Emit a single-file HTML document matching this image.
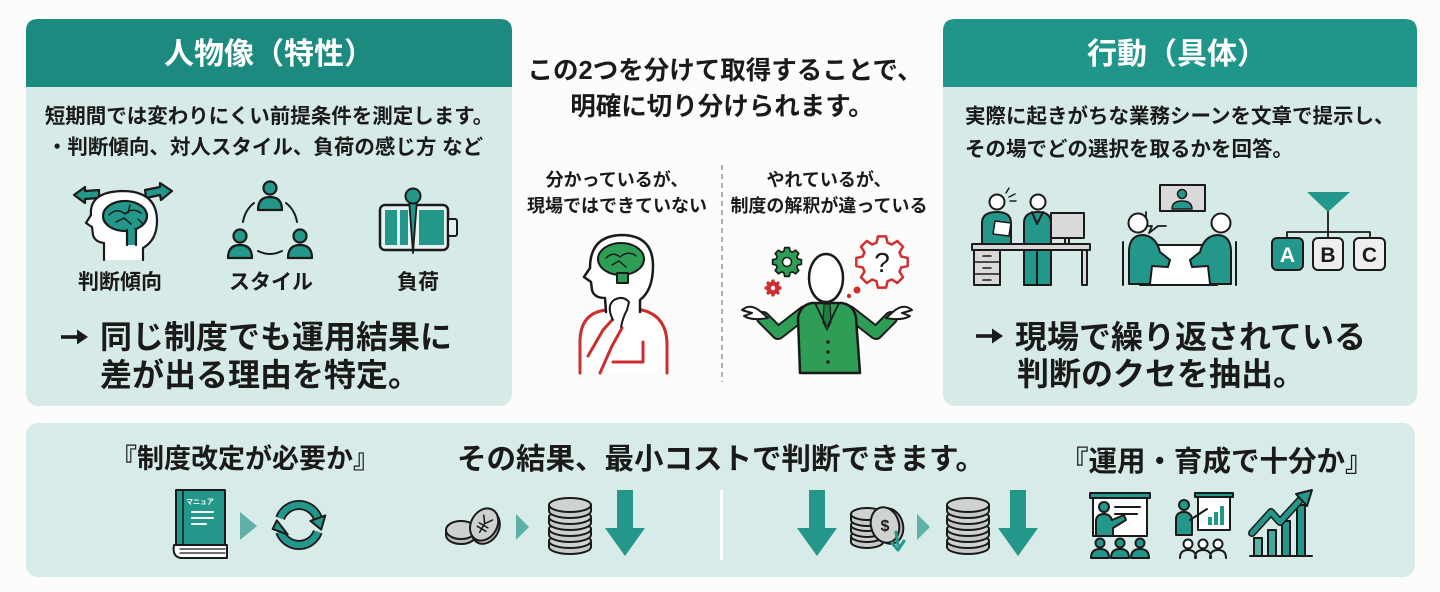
<!DOCTYPE html>
<html lang="ja">
<head>
<meta charset="utf-8">
<style>
html,body{margin:0;padding:0;background:#fcfcfb;}
#wrap{position:relative;width:1440px;height:592px;overflow:hidden;background:#fcfcfb;}
svg{position:absolute;left:0;top:0;}
.t{position:absolute;font-family:"Liberation Sans","Noto Sans CJK JP",sans-serif;font-weight:700;color:#1a1a1a;white-space:nowrap;}
.c{text-align:center;}
</style>
</head>
<body>
<div id="wrap">
<svg width="1440" height="592" viewBox="0 0 1440 592">
  <defs>
    <polygon id="gear" points="19.23,-5.51 25.68,-4.07 25.68,4.07 19.23,5.51 17.49,9.70 21.04,15.28 15.28,21.04 9.70,17.49 5.51,19.23 4.07,25.68 -4.07,25.68 -5.51,19.23 -9.70,17.49 -15.28,21.04 -21.04,15.28 -17.49,9.70 -19.23,5.51 -25.68,4.07 -25.68,-4.07 -19.23,-5.51 -17.49,-9.70 -21.04,-15.28 -15.28,-21.04 -9.70,-17.49 -5.51,-19.23 -4.07,-25.68 4.07,-25.68 5.51,-19.23 9.70,-17.49 15.28,-21.04 21.04,-15.28 17.49,-9.70"/>
  </defs>
  <!-- panels -->
  <rect x="26" y="19" width="486" height="387" rx="12" fill="#d6ebe8"/>
  <path d="M26,87 V31 Q26,19 38,19 H500 Q512,19 512,31 V87 Z" fill="#1c8a7f"/>
  <rect x="943" y="19" width="474" height="387" rx="12" fill="#d6ebe8"/>
  <path d="M943,87 V31 Q943,19 955,19 H1405 Q1417,19 1417,31 V87 Z" fill="#20968a"/>
  <rect x="26" y="423" width="1389" height="154" rx="12" fill="#d7ebe8"/>

  <!-- big arrows -->
  <g fill="#1a1a1a">
    <rect x="61" y="335.2" width="19" height="3.6"/>
    <path d="M77,329.5 L88,337 L77,344.5 Z"/>
    <rect x="976" y="334.2" width="19" height="3.6"/>
    <path d="M992,328.5 L1003,336 L992,343.5 Z"/>
  </g>

  <!-- ===== Left panel icons ===== -->
  <g stroke="#1a1a1a" stroke-width="2.2" stroke-linejoin="round" stroke-linecap="round">
    <path d="M74,195 L85,187 L85,191 L99,190 L99,198 L85,199 L85,203 Z" fill="#23978a"/>
    <path d="M172,191 L160,183 L160,187 L145,190 L146,198 L160,195 L161,200 Z" fill="#23978a"/>
    <path d="M104,260 L104,243 Q95,242 93,235 L92,227 L86,223 L91,215 Q89,192 122,191 Q157,191 157,221 Q157,240 143,248 L143,260" fill="#fff"/>
    <ellipse cx="125" cy="216" rx="22" ry="15" fill="#23978a"/>
    <rect x="127" y="229" width="9" height="16" fill="#23978a" stroke="none"/>
    <path d="M127,230 L127,245 M136,230 L136,245" fill="none"/>
    <path d="M109,215 Q117,207 125,214 Q132,207 141,213 M116,222 L124,218 L131,224 M130,205 L128,213 M138,219 L143,224" fill="none" stroke-width="1.5"/>
    <circle cx="270" cy="188" r="6.5" fill="#23978a"/>
    <path d="M258,210 Q258,197 270,197 Q282,197 282,210 Z" fill="#23978a"/>
    <circle cx="240" cy="236" r="6.5" fill="#23978a"/>
    <path d="M228,258 Q228,245 240,245 Q252,245 252,258 Z" fill="#23978a"/>
    <circle cx="300" cy="236" r="6.5" fill="#23978a"/>
    <path d="M288,258 Q288,245 300,245 Q312,245 312,258 Z" fill="#23978a"/>
    <path d="M243,222 Q245,210 254,203 M286,203 Q295,210 297,222 M258,251 Q270,257 282,251" fill="none" stroke-width="2"/>
    <rect x="380" y="205" width="68" height="45" rx="5" fill="#e6f2f0" stroke-width="2.5"/>
    <rect x="385" y="210" width="12" height="35" fill="#23978a" stroke="none"/>
    <rect x="400" y="210" width="8" height="35" fill="#23978a" stroke="none"/>
    <rect x="419" y="210" width="25" height="35" fill="#23978a" stroke="none"/>
    <rect x="448" y="219" width="9" height="17" rx="2" fill="#e6f2f0" stroke-width="2"/>
    <path d="M409,199 L413,253 L417,199 Z" fill="#23978a" stroke-width="1.8"/>
    <circle cx="413" cy="196" r="7.5" fill="#23978a" stroke-width="2"/>
  </g>

  <!-- ===== Right panel icons ===== -->
  <g stroke="#1a1a1a" stroke-width="2" stroke-linejoin="round" stroke-linecap="round">
    <rect x="1051" y="213" width="33" height="25" fill="#d9d9d9"/>
    <rect x="1065" y="238" width="4" height="6" fill="#d9d9d9"/>
    <path d="M982,244 L982,223 Q982,212 997,212 Q1011,212 1011,223 L1011,244 Z" fill="#23978a"/>
    <circle cx="997" cy="202" r="7.5" fill="#fff"/>
    <path d="M995,221 L1011,223 L1009,236 L993,234 Z" fill="#fff" stroke-width="1.6"/>
    <path d="M1006,193 L1009,188 M1009,197 L1015,194 M1010,201 L1016,201" fill="none" stroke-width="1.5"/>
    <path d="M1024,285 L1024,223 Q1024,212 1038,212 Q1051,212 1051,223 L1051,285 Z" fill="#23978a"/>
    <path d="M1037,252 L1037,285 M1032,212 L1037,224 L1043,212" fill="none"/>
    <circle cx="1038" cy="202" r="7.5" fill="#fff"/>
    <rect x="972" y="244" width="118" height="6" fill="#d9d9d9"/>
    <rect x="974" y="250" width="26" height="35" fill="#d9d9d9"/>
    <path d="M974,262 L1000,262 M974,274 L1000,274 M983,256 L991,256 M983,268 L991,268 M983,280 L991,280" fill="none" stroke-width="1.6"/>
    <rect x="1082" y="250" width="5" height="35" fill="#d9d9d9"/>
    <rect x="1160" y="185" width="45" height="26" fill="#d9d9d9"/>
    <circle cx="1182" cy="194" r="4.5" fill="#23978a" stroke-width="1.5"/>
    <path d="M1172,209 Q1172,201 1182,201 Q1192,201 1192,209 Z" fill="#23978a" stroke-width="1.5"/>
    <path d="M1146,212 L1146,226 L1152,226 L1149,233 L1158,226 L1166,226" fill="none" stroke-width="1.8"/>
    <path d="M1123,242 L1123,285 M1236,242 L1236,285" fill="none"/>
    <path d="M1150,245 L1208,245 L1217,285 L1140,285 Z" fill="#fff"/>
    <path d="M1129,284 L1129,250 Q1130,235 1143,235 Q1156,236 1160,252 L1170,260 L1168,267 L1152,266 L1150,284 Z" fill="#23978a"/>
    <circle cx="1138" cy="223" r="9.5" fill="#fff"/>
    <path d="M1231,284 L1231,250 Q1230,235 1217,235 Q1204,236 1200,252 L1190,260 L1192,267 L1208,266 L1210,284 Z" fill="#23978a"/>
    <circle cx="1221" cy="223" r="9.5" fill="#fff"/>
    <path d="M1307,192 L1350,192 L1328,212 Z" fill="#23978a" stroke="none"/>
    <path d="M1328,212 L1328,232 M1287,238 L1287,232 L1370,232 L1370,238 M1328,232 L1328,238" fill="none" stroke-width="1.8"/>
    <rect x="1272" y="238" width="31" height="32" rx="5" fill="#23978a"/>
    <rect x="1313" y="238" width="30" height="32" rx="5" fill="#eeeeee"/>
    <rect x="1354" y="238" width="31" height="32" rx="5" fill="#eeeeee"/>
  </g>
  <g font-family="Liberation Sans, sans-serif" font-weight="700" font-size="21" text-anchor="middle">
    <text x="1287.5" y="262" fill="#fff">A</text>
    <text x="1328" y="262" fill="#1a1a1a">B</text>
    <text x="1369.5" y="262" fill="#1a1a1a">C</text>
  </g>

  <!-- ===== Center ===== -->
  <line x1="722" y1="165" x2="722" y2="382" stroke="#9a9a9a" stroke-width="1.5" stroke-dasharray="5 4"/>
  <g stroke-linejoin="round" stroke-linecap="round">
    <path d="M580,373 L580,342 Q580,313 606,310 L642,310 Q667,316 667,345 L667,373" fill="#fff" stroke="#cc2d2d" stroke-width="3"/>
    <path d="M613,362 L643,362 L643,342" fill="none" stroke="#cc2d2d" stroke-width="3"/>
    <path d="M588,356 L603,330 L613,319 M600,373 L612,346 L622,328" fill="none" stroke="#cc2d2d" stroke-width="3"/>
    <path d="M606,312 L605,298 Q594,298 592,290 L591,282 L584,277 L590,268 Q590,236 621,235 Q653,235 653,266 Q653,290 640,300 L640,312" fill="#fff" stroke="#1a1a1a" stroke-width="2.5"/>
    <ellipse cx="621" cy="259" rx="23" ry="16" fill="#2e9e56" stroke="#1a1a1a" stroke-width="2"/>
    <rect x="617" y="273" width="11" height="10" fill="#2e9e56" stroke="#1a1a1a" stroke-width="2"/>
    <path d="M606,258 Q613,251 620,257 Q628,250 636,256 M612,265 L619,261 L626,267" fill="none" stroke="#1a1a1a" stroke-width="1.4"/>
    <path d="M613,320 Q606,306 614,300 Q623,295 629,302 L627,310 Q623,317 621,327" fill="#fff" stroke="#1a1a1a" stroke-width="2"/>
  </g>
  <g stroke-linejoin="round" stroke-linecap="round">
    <use href="#gear" transform="translate(787 262) scale(0.56)" fill="#2e9e56" stroke="#1a1a1a" stroke-width="3"/>
    <circle cx="787" cy="262" r="4.5" fill="#fff" stroke="#1a1a1a" stroke-width="1.5"/>
    <use href="#gear" transform="translate(773 288) scale(0.33)" fill="#d02f2f"/>
    <circle cx="773" cy="288" r="2.2" fill="#fff"/>
    <use href="#gear" transform="translate(882 262)" fill="#fff" stroke="#d02f2f" stroke-width="2.5"/>
    <text x="882" y="272" font-family="Liberation Sans, sans-serif" font-size="28" text-anchor="middle" fill="#1a1a1a">?</text>
    <circle cx="857" cy="290" r="3.5" fill="#d02f2f"/>
    <circle cx="849" cy="296" r="2.2" fill="#d02f2f"/>
    <polyline points="805,312 778,333 763,318" fill="none" stroke="#1a1a1a" stroke-width="14"/>
    <polyline points="805,312 778,333 763,318" fill="none" stroke="#2e9e56" stroke-width="10"/>
    <polyline points="849,312 876,333 891,318" fill="none" stroke="#1a1a1a" stroke-width="14"/>
    <polyline points="849,312 876,333 891,318" fill="none" stroke="#2e9e56" stroke-width="10"/>
    <path d="M768,318 L760,311 Q750,303 742,310 Q748,312 752,313 L744,316 Q752,321 768,318 Z" fill="#fff" stroke="#1a1a1a" stroke-width="2"/>
    <path d="M886,318 L894,311 Q904,303 912,310 Q906,312 902,313 L910,316 Q902,321 886,318 Z" fill="#fff" stroke="#1a1a1a" stroke-width="2"/>
    <path d="M800,373 L798,318 Q800,305 812,303 L842,303 Q854,305 856,318 L860,373 Z" fill="#2e9e56" stroke="#1a1a1a" stroke-width="2.5"/>
    <path d="M824,304 L830,304 L831,322 L827,330 L823,322 Z" fill="#1f7d42" stroke="#1a1a1a" stroke-width="1.2"/>
    <path d="M815,303 L826,326 M839,303 L828,326" fill="none" stroke="#1a1a1a" stroke-width="1.8"/>
    <circle cx="828" cy="342" r="1.8" fill="#1a1a1a"/>
    <circle cx="828" cy="352" r="1.8" fill="#1a1a1a"/>
    <circle cx="828" cy="362" r="1.8" fill="#1a1a1a"/>
    <ellipse cx="826" cy="278" rx="17" ry="24" fill="#fff" stroke="#1a1a1a" stroke-width="2.5"/>
  </g>

  <!-- ===== Bottom icons ===== -->
  <g stroke="#1a1a1a" stroke-width="2" stroke-linejoin="round" stroke-linecap="round">
    <rect x="176" y="490" width="49" height="56" fill="#23978a"/>
    <path d="M183,490 L183,546" fill="none" stroke-width="1.5"/>
    <path d="M174,545 L227,545 L227,558 L181,558 Q172,557 174,545 Z" fill="#fff"/>
    <path d="M180,549 L225,549 M180,553 L225,553" fill="none" stroke-width="1.3"/>
    <path d="M192,512 L213,512 M192,518 L213,518 M192,524 L206,524" fill="none" stroke="#fff" stroke-width="2"/>
    <path d="M280.2,518.2 A20,20 0 0 1 317.8,518.2" fill="none" stroke-width="10" stroke-linecap="butt"/>
    <path d="M280.2,518.2 A20,20 0 0 1 317.8,518.2" fill="none" stroke="#23978a" stroke-width="6.5" stroke-linecap="butt"/>
    <path d="M325.3,515.5 L310.3,520.9 L321.2,529.6 Z" fill="#23978a"/>
    <path d="M317.8,531.8 A20,20 0 0 1 280.2,531.8" fill="none" stroke-width="10" stroke-linecap="butt"/>
    <path d="M317.8,531.8 A20,20 0 0 1 280.2,531.8" fill="none" stroke="#23978a" stroke-width="6.5" stroke-linecap="butt"/>
    <path d="M287.7,534.5 L272.7,529.1 L276.8,520.4 Z" fill="#23978a"/>
    <path d="M446,530 L446,535 A15,9 0 0 0 476,535 L476,530" fill="#b9bebb"/>
    <ellipse cx="461" cy="530" rx="15" ry="9" fill="#cdd1ce"/>
    <g transform="rotate(30 485 525)">
      <ellipse cx="487" cy="527" rx="13" ry="17" fill="#b9bebb"/>
      <ellipse cx="484" cy="525" rx="13" ry="17" fill="#cdd1ce"/>
      <path d="M479,517 L484,524 L489,517 M484,524 L484,534 M479,526 L489,526 M479,530 L489,530" fill="none" stroke-width="1.5"/>
    </g>
    <g fill="#c5cac7">
      <path d="M549,541 L549,547 A21,7 0 0 0 591,547 L591,541"/><ellipse cx="570" cy="541" rx="21" ry="7" fill="#cfd3d0"/>
      <path d="M549,529 L549,535 A21,7 0 0 0 591,535 L591,529"/><ellipse cx="570" cy="529" rx="21" ry="7" fill="#cfd3d0"/>
      <path d="M549,517 L549,523 A21,7 0 0 0 591,523 L591,517"/><ellipse cx="570" cy="517" rx="21" ry="7" fill="#cfd3d0"/>
      <path d="M549,505 L549,511 A21,7 0 0 0 591,511 L591,505"/><ellipse cx="570" cy="505" rx="21" ry="7" fill="#cfd3d0"/>
    </g>
    <g fill="#c5cac7">
      <path d="M851,536 L851,542 A16,6 0 0 0 883,542 L883,536"/><ellipse cx="867" cy="536" rx="16" ry="6" fill="#cfd3d0"/>
      <path d="M851,525 L851,531 A16,6 0 0 0 883,531 L883,525"/><ellipse cx="867" cy="525" rx="16" ry="6" fill="#cfd3d0"/>
      <path d="M851,514 L851,520 A16,6 0 0 0 883,520 L883,514"/><ellipse cx="867" cy="514" rx="16" ry="6" fill="#cfd3d0"/>
    </g>
    <ellipse cx="889" cy="526" rx="14" ry="18" fill="#b9bebb" transform="rotate(-15 889 526)"/>
    <ellipse cx="885" cy="525" rx="14" ry="18" fill="#cfd3d0" transform="rotate(-15 885 525)"/>
    <path d="M896,532 L898,545 M892,543 L898,550 L904,541" fill="none" stroke="#23978a" stroke-width="3"/>
    <g fill="#c5cac7">
      <path d="M947,541 L947,547 A21,7 0 0 0 989,547 L989,541"/><ellipse cx="968" cy="541" rx="21" ry="7" fill="#cfd3d0"/>
      <path d="M947,529 L947,535 A21,7 0 0 0 989,535 L989,529"/><ellipse cx="968" cy="529" rx="21" ry="7" fill="#cfd3d0"/>
      <path d="M947,517 L947,523 A21,7 0 0 0 989,523 L989,517"/><ellipse cx="968" cy="517" rx="21" ry="7" fill="#cfd3d0"/>
      <path d="M947,505 L947,511 A21,7 0 0 0 989,511 L989,505"/><ellipse cx="968" cy="505" rx="21" ry="7" fill="#cfd3d0"/>
    </g>
  </g>
  <text x="885" y="531" font-family="Liberation Sans, sans-serif" font-size="16" font-weight="700" text-anchor="middle" fill="#1a1a1a">$</text>
  <text x="200" y="504" font-family="Liberation Sans, Noto Sans CJK JP, sans-serif" font-size="7" font-weight="700" text-anchor="middle" fill="#fff">マニュア</text>
  <g fill="#5fb0a6">
    <path d="M240,512 L257,526 L240,540 Z"/>
    <path d="M516,514 L529,527 L516,540 Z"/>
    <path d="M917,514 L930,527 L917,540 Z"/>
  </g>
  <g fill="#23978a">
    <path d="M617,490 L633,490 L633,528 L645,528 L625,556 L605,528 L617,528 Z"/>
    <path d="M809,490 L825,490 L825,528 L837,528 L817,556 L797,528 L809,528 Z"/>
    <path d="M1010,490 L1026,490 L1026,528 L1038,528 L1018,556 L998,528 L1010,528 Z"/>
  </g>
  <rect x="720" y="490" width="3" height="70" fill="#ffffff"/>
  <g stroke="#1a1a1a" stroke-width="2" stroke-linejoin="round" stroke-linecap="round">
    <rect x="1090" y="493" width="60" height="5" fill="#23978a"/>
    <rect x="1093" y="498" width="54" height="38" fill="#fff"/>
    <path d="M1115,507 L1140,507 M1115,514 L1137,514" fill="none"/>
    <path d="M1096,536 L1096,520 Q1097,514 1104,514 Q1110,514 1112,520 L1124,515 L1126,520 L1113,528 L1113,536 Z" fill="#23978a"/>
    <circle cx="1104" cy="507" r="5" fill="#23978a"/>
    <circle cx="1100" cy="543" r="4.5" fill="#23978a"/>
    <circle cx="1120" cy="543" r="4.5" fill="#23978a"/>
    <circle cx="1140" cy="543" r="4.5" fill="#23978a"/>
    <path d="M1091,558 Q1091,549 1100,549 Q1109,549 1109,558 Z M1111,558 Q1111,549 1120,549 Q1129,549 1129,558 Z M1131,558 Q1131,549 1140,549 Q1149,549 1149,558 Z" fill="#23978a"/>
    <rect x="1195" y="493" width="38" height="4" fill="#23978a"/>
    <rect x="1198" y="497" width="32" height="33" fill="#fff"/>
    <rect x="1208" y="517" width="4" height="8" fill="#23978a" stroke="none"/>
    <rect x="1214" y="512" width="4" height="13" fill="#23978a" stroke="none"/>
    <rect x="1220" y="506" width="4" height="19" fill="#23978a" stroke="none"/>
    <path d="M1176,535 L1176,518 Q1177,512 1184,512 Q1190,512 1192,518 L1192,535 Z" fill="#23978a"/>
    <path d="M1190,520 L1207,509" fill="none"/>
    <circle cx="1184" cy="505" r="5" fill="#23978a"/>
    <circle cx="1188" cy="544" r="4.5" fill="#fff"/>
    <circle cx="1203" cy="544" r="4.5" fill="#fff"/>
    <circle cx="1218" cy="544" r="4.5" fill="#fff"/>
    <path d="M1180,558 Q1180,550 1188,550 Q1196,550 1196,558 M1195,558 Q1195,550 1203,550 Q1211,550 1211,558 M1210,558 Q1210,550 1218,550 Q1226,550 1226,558" fill="none"/>
    <rect x="1254" y="538" width="8" height="18" fill="#5fb0a6"/>
    <rect x="1268" y="530" width="8" height="26" fill="#47a79c"/>
    <rect x="1282" y="521" width="8" height="35" fill="#23978a"/>
    <rect x="1297" y="505" width="8" height="51" fill="#23978a"/>
    <path d="M1250,556 L1312,556" fill="none"/>
    <polyline points="1252,533 1271,512 1280,522 1302,498" fill="none" stroke-width="8"/>
    <polyline points="1252,533 1271,512 1280,522 1302,498" fill="none" stroke="#23978a" stroke-width="5"/>
    <path d="M1296,494 L1312,490 L1307,506 Z" fill="#23978a"/>
  </g>
</svg>

<!-- Left panel text -->
<div class="t c" style="left:26px;width:486px;top:37px;line-height:36px;font-size:30px;color:#fff;">人物像（特性）</div>
<div class="t c" style="left:26px;width:486px;top:105px;line-height:24px;font-size:20.5px;">短期間では変わりにくい前提条件を測定します。</div>
<div class="t c" style="left:22px;width:486px;top:136px;line-height:24px;font-size:20.5px;">・判断傾向、対人スタイル、負荷の感じ方 など</div>
<div class="t c" style="left:70px;width:100px;top:271px;line-height:24px;font-size:21px;">判断傾向</div>
<div class="t c" style="left:221px;width:100px;top:271px;line-height:24px;font-size:21px;">スタイル</div>
<div class="t c" style="left:368px;width:100px;top:271px;line-height:24px;font-size:21px;">負荷</div>
<div class="t" style="left:100px;top:317px;line-height:40px;font-size:32px;">同じ制度でも運用結果に</div>
<div class="t" style="left:100px;top:355px;line-height:40px;font-size:32px;">差が出る理由を特定。</div>

<!-- Right panel text -->
<div class="t c" style="left:940px;width:474px;top:37px;line-height:36px;font-size:30px;color:#fff;">行動（具体）</div>
<div class="t" style="left:965px;top:105px;line-height:24px;font-size:20.5px;">実際に起きがちな業務シーンを文章で提示し、</div>
<div class="t" style="left:965px;top:138px;line-height:24px;font-size:20.5px;">その場でどの選択を取るかを回答。</div>
<div class="t" style="left:1015px;top:317px;line-height:40px;font-size:32px;">現場で繰り返されている</div>
<div class="t" style="left:1017px;top:354px;line-height:40px;font-size:32px;">判断のクセを抽出。</div>

<!-- Center text -->
<div class="t c" style="left:525px;width:400px;top:55px;line-height:32px;font-size:25.5px;">この2つを分けて取得することで、</div>
<div class="t c" style="left:522px;width:400px;top:91px;line-height:32px;font-size:25.5px;">明確に切り分けられます。</div>
<div class="t c" style="left:517px;width:200px;top:169px;line-height:22px;font-size:18px;">分かっているが、</div>
<div class="t c" style="left:517px;width:200px;top:195px;line-height:22px;font-size:18px;">現場ではできていない</div>
<div class="t c" style="left:729px;width:200px;top:169px;line-height:22px;font-size:18px;">やれているが、</div>
<div class="t c" style="left:729px;width:200px;top:195px;line-height:22px;font-size:18px;">制度の解釈が違っている</div>

<!-- Bottom text -->
<div class="t c" style="left:95px;width:300px;top:443px;line-height:32px;font-size:27px;">『制度改定が必要か』</div>
<div class="t c" style="left:421px;width:600px;top:444px;line-height:32px;font-size:29.5px;">その結果、最小コストで判断できます。</div>
<div class="t c" style="left:1060px;width:300px;top:446px;line-height:32px;font-size:28.5px;">『運用・育成で十分か』</div>
</div>
</body>
</html>
